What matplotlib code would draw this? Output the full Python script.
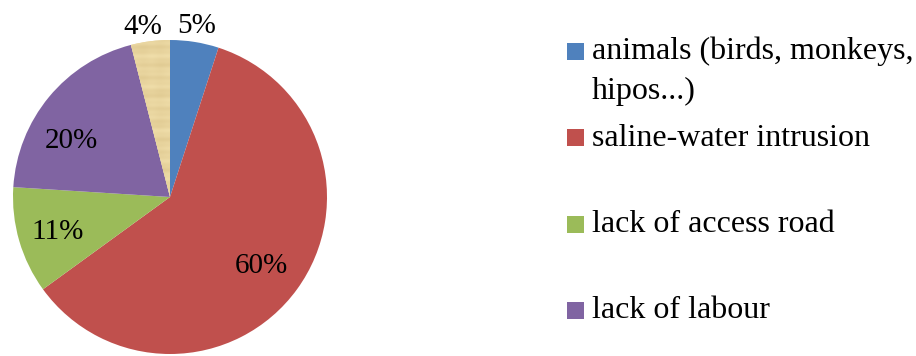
import matplotlib
matplotlib.use("Agg")
import matplotlib.pyplot as plt
import numpy as np
from matplotlib.patches import Rectangle

# causes of crop loss (share of respondents, %)
shares = [5, 60, 11, 20, 4]
slice_labels = ["5%", "60%", "11%", "20%", "4%"]
legend_labels = [
    "animals (birds, monkeys,\nhipos...)",
    "saline-water intrusion",
    "lack of access road",
    "lack of labour",
]

colors = ["#4F81BD", "#C0504D", "#9BBB59", "#8064A2", "#EAD49E"]
# radial distance and angle nudge (deg) for each percentage label
label_dist = [1.10, 0.73, 0.75, 0.72, 1.10]
label_nudge = [0, -1, 1, 10, 2]

W, H = 916, 356
plt.rcParams["font.family"] = ["Liberation Serif", "DejaVu Serif"]

fig = plt.figure(figsize=(W / 100, H / 100), dpi=100)

# pie axes: centre (170, 197) px, radius 157 px
cx, cy, r = 170, 197, 157
ax = fig.add_axes([(cx - r) / W, (H - cy - r) / H, 2 * r / W, 2 * r / H])
wedges, _ = ax.pie(shares, colors=colors, startangle=90, counterclock=False,
                   radius=1, wedgeprops=dict(linewidth=0))
ax.axis("off")

# papyrus-like texture for the last slice
yy, xx = np.mgrid[0:240, 0:240] / 240.0
tone = (0.5 * np.sin(yy * 70) + 0.3 * np.sin(yy * 171 + 1.3)
        + 0.25 * np.sin(yy * 41 + xx * 5) + 0.15 * np.sin(xx * 23 + 0.7))
base = np.array([240, 222, 170]) / 255.0
dark = np.array([224, 202, 146]) / 255.0
t = np.clip((tone + 1.2) / 2.4, 0, 1)[..., None]
tex = base * t + dark * (1 - t)
img = ax.imshow(tex, extent=(-0.35, 0.05, -0.05, 1.02), zorder=3,
                interpolation="bicubic", aspect="auto")
img.set_clip_path(wedges[4])
ax.set_xlim(-1, 1)
ax.set_ylim(-1, 1)
ax.set_aspect("equal")

# percentage labels
for w, lab, d, nudge in zip(wedges, slice_labels, label_dist, label_nudge):
    ang = np.deg2rad((w.theta1 + w.theta2) / 2 + nudge)
    ax.text(d * np.cos(ang), d * np.sin(ang), lab, ha="center", va="center",
            fontsize=21, color="black", zorder=5)

# legend with square markers
sq = 17
for i, lab in enumerate(legend_labels):
    top = 43 + i * 86.3
    fig.patches.append(Rectangle((567 / W, (H - top - sq) / H), sq / W, sq / H,
                                 transform=fig.transFigure,
                                 facecolor=colors[i], edgecolor="none"))
    for k, line in enumerate(lab.split("\n")):
        fig.text(592 / W, (H - top - 16.5 - k * 39) / H, line, ha="left",
                 va="baseline", fontsize=23)

fig.savefig("out.png", dpi=100)
